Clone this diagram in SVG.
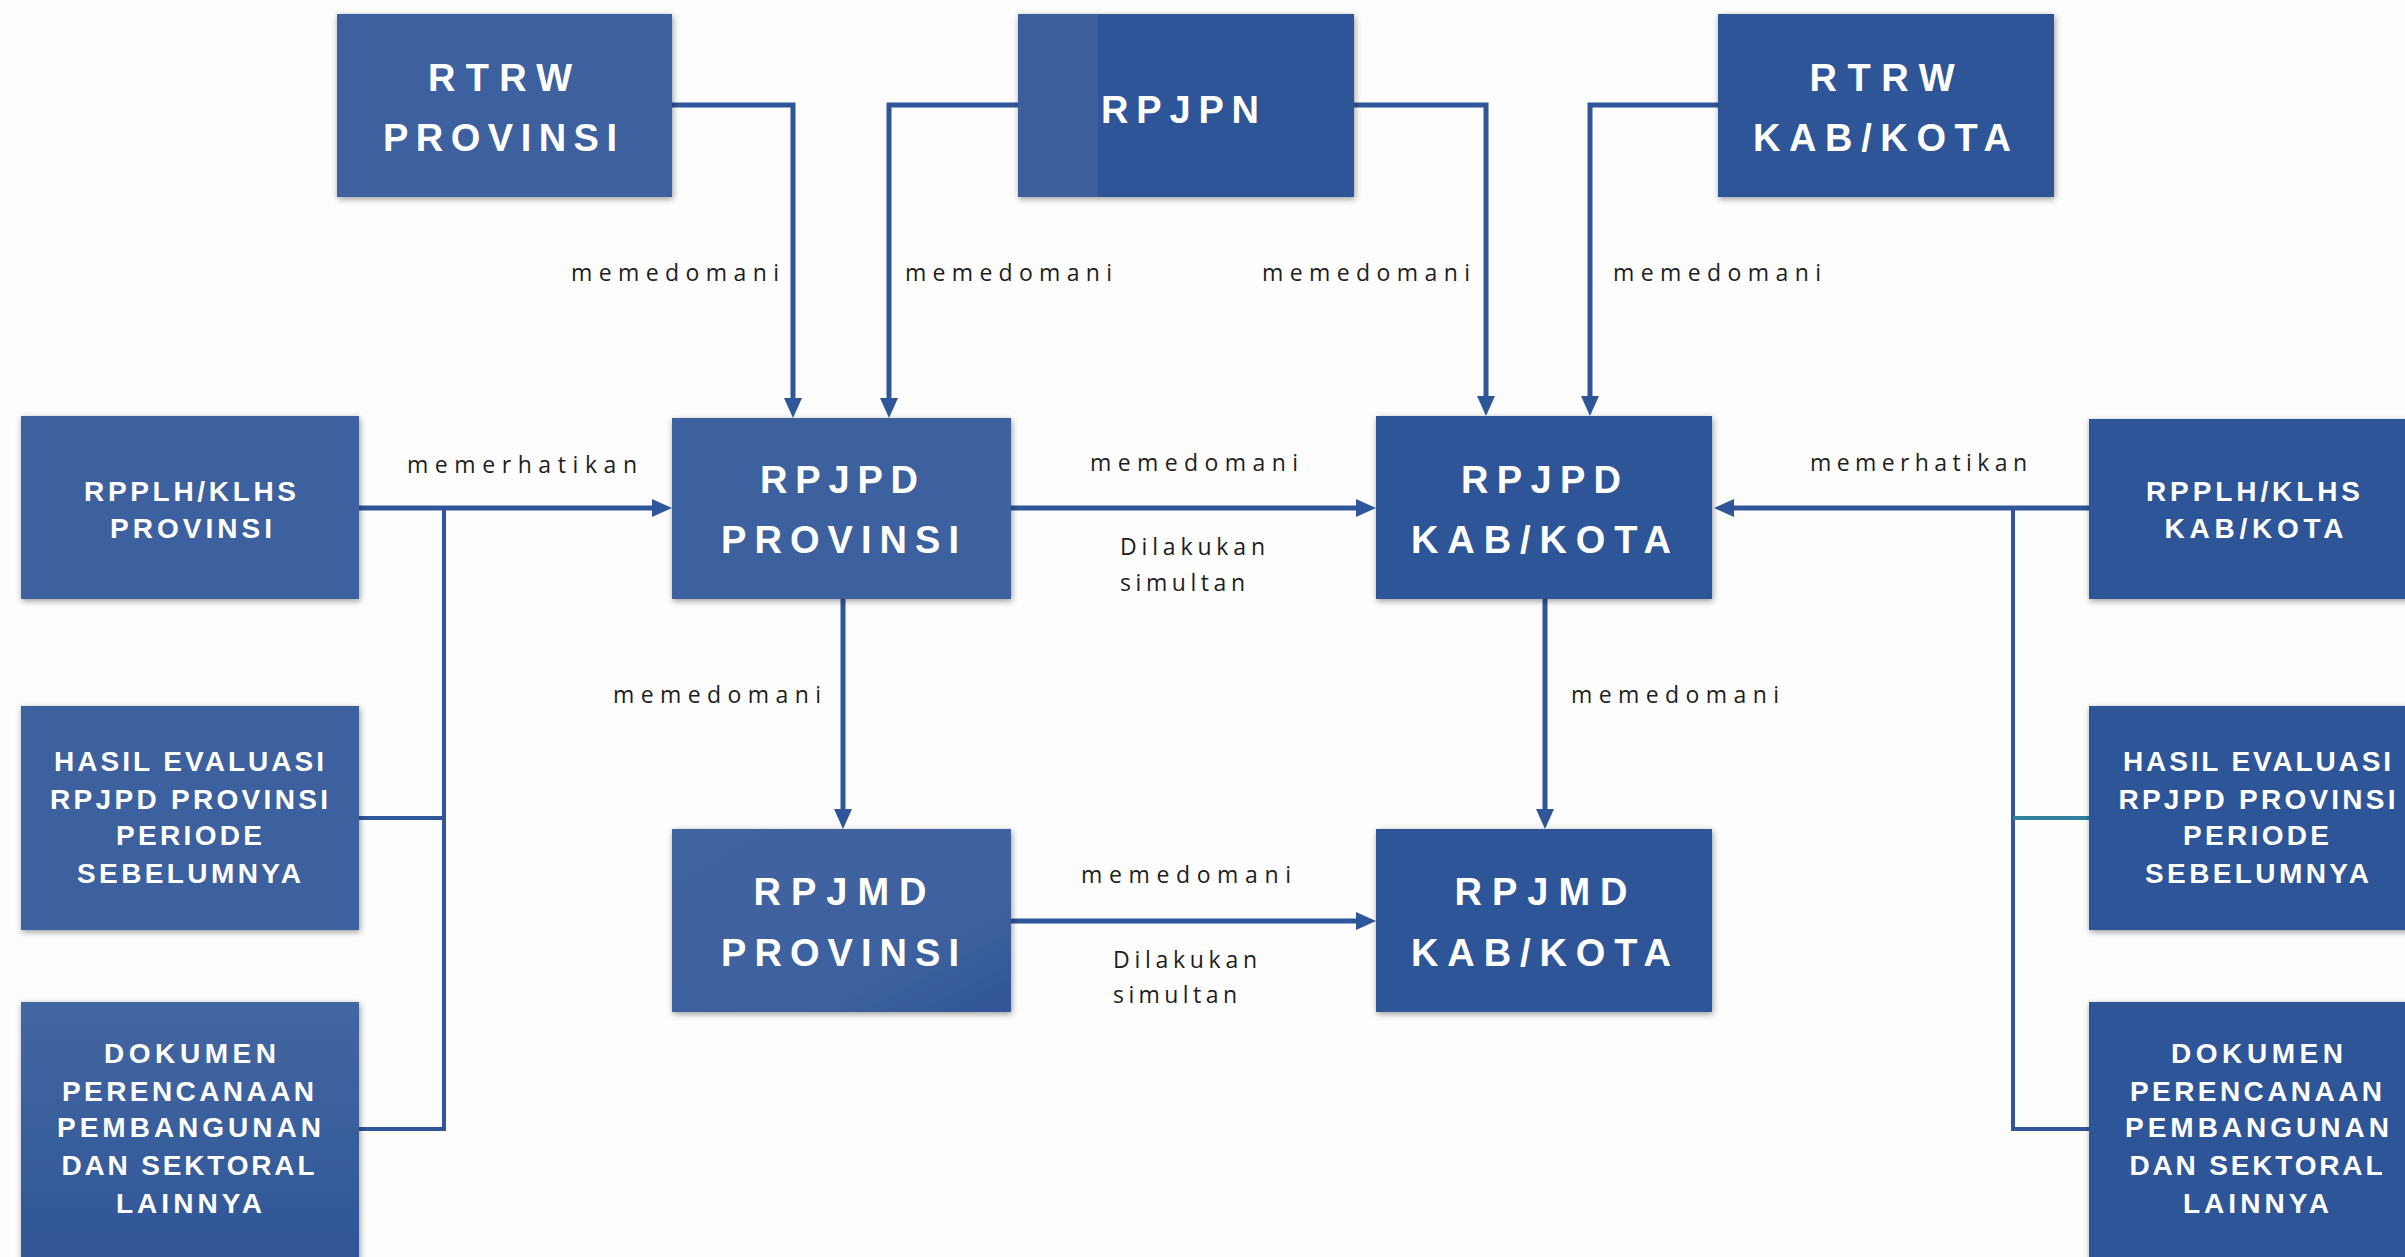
<svg xmlns="http://www.w3.org/2000/svg" width="2405" height="1257" viewBox="0 0 2405 1257">
<defs>
<style>
.box{stroke:none;filter:url(#sh)}
.dk{fill:#2e5597}
.lt{fill:#3d619e}
.big{font-family:"Liberation Sans",Arial,sans-serif;font-weight:bold;font-size:38px;fill:#ffffff;text-anchor:middle}
.sm{font-family:"Liberation Sans",Arial,sans-serif;font-weight:bold;font-size:28px;fill:#ffffff;text-anchor:middle}
.lbl{font-family:"Open Sans","Liberation Sans",sans-serif;font-size:23px;fill:#1e1e1e}
.ln{fill:none;stroke:#2f5698;stroke-width:5}
.bus{fill:none;stroke:#2f5698;stroke-width:4}
.arr{marker-end:url(#ah)}
</style>
<filter id="sh" x="-10%" y="-10%" width="120%" height="120%">
<feDropShadow dx="1" dy="2" stdDeviation="3" flood-color="#000" flood-opacity="0.4"/>
</filter>
<marker id="ah" markerUnits="userSpaceOnUse" viewBox="0 0 20 18" markerWidth="20" markerHeight="18" refX="10" refY="9" orient="auto">
<path d="M0,0 L20,9 L0,18 z" fill="#2f5698"/>
</marker>
<linearGradient id="gdok" x1="0" y1="0" x2="0" y2="1">
<stop offset="0" stop-color="#4367a2"/>
<stop offset="1" stop-color="#2f5597"/>
</linearGradient>
<linearGradient id="gjmd" x1="0" y1="0" x2="1" y2="1">
<stop offset="0" stop-color="#4165a1"/>
<stop offset="0.7" stop-color="#3d619e"/>
<stop offset="1" stop-color="#2f5597"/>
</linearGradient>
</defs>
<rect x="0" y="0" width="2405" height="1257" fill="#fdfdfd"/>

<g id="connectors">
<path class="ln arr" d="M672,105 H793 V408"/>
<path class="ln arr" d="M1018,105 H889 V408"/>
<path class="ln arr" d="M1354,105 H1486 V406"/>
<path class="ln arr" d="M1718,105 H1590 V406"/>
<path class="ln arr" d="M359,508 H662"/>
<path class="bus" d="M444,508 V1129 H359"/>
<path class="bus" d="M444,818 H359"/>
<path class="ln arr" d="M1011,508 H1366"/>
<path class="ln arr" d="M843,599 V819"/>
<path class="ln arr" d="M1545,599 V819"/>
<path class="ln arr" d="M1011,921 H1366"/>
<path class="ln arr" d="M2089,508 H1724"/>
<path class="bus" d="M2013,508 V1129 H2089"/>
<path fill="none" stroke="#31809c" stroke-width="4" d="M2013,818 H2089"/>
<text class="lbl" x="571" y="281" textLength="208" lengthAdjust="spacing">memedomani</text>
<text class="lbl" x="905" y="281" textLength="207" lengthAdjust="spacing">memedomani</text>
<text class="lbl" x="1262" y="281" textLength="208" lengthAdjust="spacing">memedomani</text>
<text class="lbl" x="1613" y="281" textLength="208" lengthAdjust="spacing">memedomani</text>
<text class="lbl" x="407" y="473" textLength="230" lengthAdjust="spacing">memerhatikan</text>
<text class="lbl" x="1810" y="471" textLength="217" lengthAdjust="spacing">memerhatikan</text>
<text class="lbl" x="1090" y="471" textLength="208" lengthAdjust="spacing">memedomani</text>
<text class="lbl" x="1120" y="555" textLength="145" lengthAdjust="spacing">Dilakukan</text>
<text class="lbl" x="1120" y="591" textLength="125" lengthAdjust="spacing">simultan</text>
<text class="lbl" x="613" y="703" textLength="208" lengthAdjust="spacing">memedomani</text>
<text class="lbl" x="1571" y="703" textLength="208" lengthAdjust="spacing">memedomani</text>
<text class="lbl" x="1081" y="883" textLength="210" lengthAdjust="spacing">memedomani</text>
<text class="lbl" x="1113" y="968" textLength="144" lengthAdjust="spacing">Dilakukan</text>
<text class="lbl" x="1113" y="1003" textLength="124" lengthAdjust="spacing">simultan</text>
</g>

<g id="rtrw-provinsi">
<rect class="box lt" x="337" y="14" width="335" height="183"/>
<text class="big" x="500" y="91" textLength="144" lengthAdjust="spacing">RTRW</text>
<text class="big" x="500" y="151" textLength="234" lengthAdjust="spacing">PROVINSI</text>
</g>

<g id="rpjpn">
<rect class="box dk" x="1018" y="14" width="336" height="183"/>
<rect x="1018" y="14" width="80" height="183" fill="#3c5f9c"/>
<text class="big" x="1180" y="123" textLength="158" lengthAdjust="spacing">RPJPN</text>
</g>

<g id="rtrw-kabkota">
<rect class="box dk" x="1718" y="14" width="336" height="183"/>
<text class="big" x="1882" y="91" textLength="145" lengthAdjust="spacing">RTRW</text>
<text class="big" x="1882" y="151" textLength="258" lengthAdjust="spacing">KAB/KOTA</text>
</g>

<g id="rpplh-provinsi">
<rect class="box lt" x="21" y="416" width="338" height="183"/>
<text class="sm" x="190" y="501" textLength="212" lengthAdjust="spacing">RPPLH/KLHS</text>
<text class="sm" x="191" y="538" textLength="162" lengthAdjust="spacing">PROVINSI</text>
</g>

<g id="hasil-evaluasi-provinsi">
<rect class="box lt" x="21" y="706" width="338" height="224"/>
<text class="sm" x="189" y="771" textLength="270" lengthAdjust="spacing">HASIL EVALUASI</text>
<text class="sm" x="189" y="809" textLength="278" lengthAdjust="spacing">RPJPD PROVINSI</text>
<text class="sm" x="189" y="845" textLength="146" lengthAdjust="spacing">PERIODE</text>
<text class="sm" x="189" y="883" textLength="224" lengthAdjust="spacing">SEBELUMNYA</text>
</g>

<g id="dokumen-provinsi">
<rect class="box" fill="url(#gdok)" x="21" y="1002" width="338" height="270"/>
<text class="sm" x="190" y="1063" textLength="172" lengthAdjust="spacing">DOKUMEN</text>
<text class="sm" x="188" y="1101" textLength="252" lengthAdjust="spacing">PERENCANAAN</text>
<text class="sm" x="189" y="1137" textLength="264" lengthAdjust="spacing">PEMBANGUNAN</text>
<text class="sm" x="188" y="1175" textLength="253" lengthAdjust="spacing">DAN SEKTORAL</text>
<text class="sm" x="189" y="1213" textLength="146" lengthAdjust="spacing">LAINNYA</text>
</g>

<g id="rpjpd-provinsi">
<rect class="box lt" x="672" y="418" width="339" height="181"/>
<text class="big" x="839" y="493" textLength="158" lengthAdjust="spacing">RPJPD</text>
<text class="big" x="840" y="553" textLength="238" lengthAdjust="spacing">PROVINSI</text>
</g>

<g id="rpjpd-kabkota">
<rect class="box dk" x="1376" y="416" width="336" height="183"/>
<text class="big" x="1541" y="493" textLength="160" lengthAdjust="spacing">RPJPD</text>
<text class="big" x="1541" y="553" textLength="260" lengthAdjust="spacing">KAB/KOTA</text>
</g>

<g id="rpjmd-provinsi">
<rect class="box" fill="url(#gjmd)" x="672" y="829" width="339" height="183"/>
<text class="big" x="840" y="905" textLength="173" lengthAdjust="spacing">RPJMD</text>
<text class="big" x="840" y="966" textLength="238" lengthAdjust="spacing">PROVINSI</text>
</g>

<g id="rpjmd-kabkota">
<rect class="box dk" x="1376" y="829" width="336" height="183"/>
<text class="big" x="1541" y="905" textLength="173" lengthAdjust="spacing">RPJMD</text>
<text class="big" x="1541" y="966" textLength="260" lengthAdjust="spacing">KAB/KOTA</text>
</g>

<g id="rpplh-kabkota">
<rect class="box dk" x="2089" y="419" width="340" height="180"/>
<text class="sm" x="2253" y="501" textLength="214" lengthAdjust="spacing">RPPLH/KLHS</text>
<text class="sm" x="2254" y="538" textLength="179" lengthAdjust="spacing">KAB/KOTA</text>
</g>

<g id="hasil-evaluasi-kabkota">
<rect class="box dk" x="2089" y="706" width="340" height="224"/>
<text class="sm" x="2257" y="771" textLength="268" lengthAdjust="spacing">HASIL EVALUASI</text>
<text class="sm" x="2257" y="809" textLength="277" lengthAdjust="spacing">RPJPD PROVINSI</text>
<text class="sm" x="2256" y="845" textLength="146" lengthAdjust="spacing">PERIODE</text>
<text class="sm" x="2257" y="883" textLength="224" lengthAdjust="spacing">SEBELUMNYA</text>
</g>

<g id="dokumen-kabkota">
<rect class="box dk" x="2089" y="1002" width="340" height="270"/>
<text class="sm" x="2257" y="1063" textLength="172" lengthAdjust="spacing">DOKUMEN</text>
<text class="sm" x="2256" y="1101" textLength="252" lengthAdjust="spacing">PERENCANAAN</text>
<text class="sm" x="2257" y="1137" textLength="264" lengthAdjust="spacing">PEMBANGUNAN</text>
<text class="sm" x="2256" y="1175" textLength="253" lengthAdjust="spacing">DAN SEKTORAL</text>
<text class="sm" x="2256" y="1213" textLength="146" lengthAdjust="spacing">LAINNYA</text>
</g>
</svg>
